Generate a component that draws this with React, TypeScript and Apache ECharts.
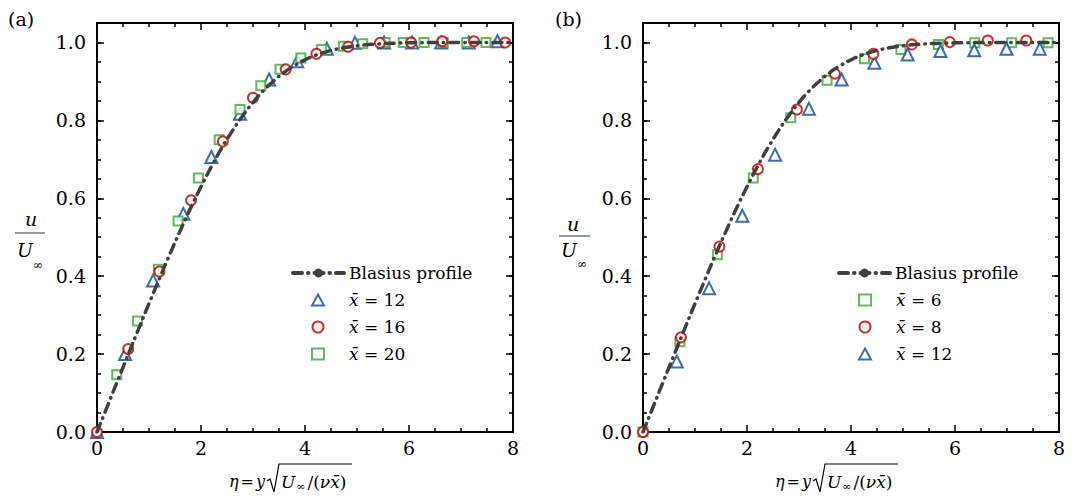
import React, { useEffect, useRef } from 'react';
import * as echarts from 'echarts';

// Blasius similarity profile u/U∞ versus η
const blasiusEta = [0, 0.2, 0.4, 0.6, 0.8, 1.0, 1.2, 1.4, 1.6, 1.8, 2.0, 2.2, 2.4, 2.6, 2.8, 3.0, 3.2, 3.4, 3.6, 3.8, 4.0, 4.2, 4.4, 4.6, 4.8, 5.0, 5.4, 5.8, 6.2, 6.6, 7.0, 7.5, 8.0];
const blasiusU = [0, 0.0664, 0.1328, 0.1989, 0.2647, 0.3298, 0.3938, 0.4563, 0.5168, 0.5748, 0.6298, 0.6813, 0.729, 0.7725, 0.8115, 0.8461, 0.8761, 0.9018, 0.9233, 0.9411, 0.9555, 0.967, 0.9759, 0.9827, 0.9878, 0.9916, 0.9962, 0.9984, 0.9994, 0.9998, 0.9999, 1.0, 1.0];

// Panel (a) measurements [η, u/U∞]
const a_x12: number[][] = [[0, 0], [0.54, 0.2], [1.08, 0.389], [1.66, 0.56], [2.2, 0.706], [2.75, 0.817], [3.31, 0.905], [3.85, 0.952], [4.42, 0.984], [4.96, 0.999], [5.52, 1.0], [6.06, 1.0], [6.62, 1.0], [7.15, 1.0], [7.7, 1.003]];
const a_x16: number[][] = [[0, 0], [0.6, 0.213], [1.2, 0.412], [1.81, 0.595], [2.42, 0.746], [3.0, 0.858], [3.63, 0.931], [4.22, 0.971], [4.83, 0.989], [5.44, 0.999], [6.04, 1.0], [6.64, 1.003], [7.25, 1.003], [7.85, 1.0]];
const a_x20: number[][] = [[0.38, 0.147], [0.78, 0.285], [1.18, 0.418], [1.56, 0.542], [1.95, 0.652], [2.35, 0.75], [2.75, 0.828], [3.15, 0.889], [3.52, 0.931], [3.92, 0.96], [4.32, 0.982], [4.74, 0.99], [5.11, 0.997], [5.54, 1.0], [5.89, 1.0], [6.29, 1.0], [6.66, 1.0], [7.11, 1.0], [7.48, 1.0]];

// Panel (b) measurements [η, u/U∞]
const b_x6: number[][] = [[0, 0], [0.71, 0.232], [1.43, 0.455], [2.12, 0.652], [2.84, 0.807], [3.54, 0.903], [4.26, 0.958], [4.96, 0.982], [5.68, 0.995], [6.38, 0.999], [7.09, 0.999], [7.79, 0.999]];
const b_x8: number[][] = [[0, 0], [0.73, 0.243], [1.47, 0.476], [2.21, 0.675], [2.96, 0.828], [3.69, 0.92], [4.43, 0.971], [5.17, 0.995], [5.9, 1.001], [6.63, 1.005], [7.37, 1.005]];
const b_x12: number[][] = [[0.65, 0.181], [1.27, 0.369], [1.91, 0.555], [2.54, 0.712], [3.19, 0.83], [3.82, 0.905], [4.45, 0.948], [5.09, 0.969], [5.72, 0.978], [6.37, 0.98], [6.99, 0.984], [7.63, 0.984]];

const BLASIUS = 'Blasius profile';
const N12 = 'x\u0304 = 12';
const N16 = 'x\u0304 = 16';
const N20 = 'x\u0304 = 20';
const N6 = 'x\u0304 = 6';
const N8 = 'x\u0304 = 8';

const BLUE = '#0a4a96';
const RED = '#c00000';
const GREEN = '#3aa838';
const CURVE = '#404040';
const GRID_LEFT = [97, 643];

const FONT = 'DejaVu Serif';
const TICK_SIZE = 19;
const LEG_SIZE = 17;

function xAxisDef(gridIndex: number, position: 'bottom' | 'top', labels: boolean) {
  return {
    type: 'value', gridIndex, position, min: 0, max: 8, interval: 2,
    axisLine: { show: true, onZero: false, lineStyle: { color: '#000', width: 2 } },
    axisTick: { show: true, inside: true, length: 7, lineStyle: { color: '#000', width: 1.5 } },
    minorTick: { show: true, splitNumber: 4, length: 4, lineStyle: { color: '#000', width: 1.5 } },
    splitLine: { show: false },
    minorSplitLine: { show: false },
    axisLabel: { show: labels, margin: 6, fontSize: TICK_SIZE, fontFamily: FONT, color: '#000' },
  };
}

function yAxisDef(gridIndex: number, position: 'left' | 'right', major: boolean, labels: boolean) {
  return {
    type: 'value', gridIndex, position, min: 0, max: 1.05, interval: major ? 0.2 : 0.05,
    axisLine: { show: true, onZero: false, lineStyle: { color: '#000', width: 2 } },
    axisTick: { show: true, inside: true, length: major ? 7 : 4, lineStyle: { color: '#000', width: 1.5 } },
    splitLine: { show: false },
    axisLabel: {
      show: labels, margin: 11, fontSize: TICK_SIZE, fontFamily: FONT, color: '#000',
      formatter: (v: number) => (Math.abs(v / 0.2 - Math.round(v / 0.2)) < 1e-6 ? v.toFixed(1) : ''),
    },
  };
}

function blasiusSeries(idx: number) {
  return {
    type: 'line', name: BLASIUS, xAxisIndex: idx * 2, yAxisIndex: idx * 4,
    data: blasiusEta.map((e, i) => [e, blasiusU[i]]),
    showSymbol: false, symbol: 'none', smooth: true,
    lineStyle: { color: CURVE, width: 3.5, type: [9, 6, 0.5, 6], cap: 'round' },
    itemStyle: { color: CURVE },
  };
}

function scatterSeries(idx: number, name: string, data: number[][], symbol: string, size: number, color: string) {
  return {
    type: 'scatter', name, xAxisIndex: idx * 2, yAxisIndex: idx * 4,
    data, symbol, symbolSize: size,
    itemStyle: { color: '#fff', borderColor: color, borderWidth: 2 },
  };
}

const legendRich = {
  i: { fontSize: LEG_SIZE, fontFamily: FONT, fontStyle: 'italic', color: '#000', lineHeight: 22, padding: [0, 0, 0, 20] },
  n: { fontSize: LEG_SIZE, fontFamily: FONT, color: '#000', lineHeight: 22 },
};

function lineLegend(left: number) {
  return {
    orient: 'vertical', left, top: 262, padding: 0, itemGap: 5,
    itemWidth: 51, itemHeight: 11,
    lineStyle: { width: 4 },
    selectedMode: false,
    data: [BLASIUS],
    textStyle: { fontSize: LEG_SIZE, fontFamily: FONT, color: '#000', lineHeight: 22 },
  };
}

function symbolLegend(left: number, data: string[]) {
  return {
    orient: 'vertical', left, top: 289, padding: 0, itemGap: 5,
    itemWidth: 12, itemHeight: 11,
    selectedMode: false,
    data,
    formatter: (name: string) => `{i|x\u0304}{n|${name.slice(2)}}`,
    textStyle: { fontSize: LEG_SIZE, fontFamily: FONT, color: '#000', lineHeight: 22, rich: legendRich },
  };
}

function yTitle(cx: number, uY: number, barY: number, barX0: number, barX1: number, UX: number, UY: number, infX: number, infY: number) {
  return [
    { type: 'text', x: cx, y: uY, style: { text: 'u', fontSize: 19, fontFamily: FONT, fontStyle: 'italic', fill: '#000', align: 'center', verticalAlign: 'middle' } },
    { type: 'line', shape: { x1: barX0, y1: barY, x2: barX1, y2: barY }, style: { stroke: '#777', lineWidth: 1.5 } },
    { type: 'text', x: UX, y: UY, style: { text: 'U', fontSize: 19, fontFamily: FONT, fontStyle: 'italic', fill: '#000', align: 'center', verticalAlign: 'middle' } },
    { type: 'text', x: infX, y: infY, style: { text: '\u221e', fontSize: 12, fontFamily: FONT, fill: '#000', align: 'center', verticalAlign: 'middle' } },
  ];
}

function xTitle(dx: number) {
  const y = 481;
  return [
    {
      type: 'text', x: 229 + dx, y,
      style: {
        text: '{i|\u03b7}{e|=}{i|y}', fontSize: 16, fontFamily: FONT, fill: '#000', align: 'left', verticalAlign: 'middle',
        rich: {
          i: { fontSize: 16, fontFamily: FONT, fontStyle: 'italic', fill: '#000' },
          e: { fontSize: 16, fontFamily: FONT, fill: '#000', padding: [0, 2, 0, 2] },
        },
      },
    },
    {
      type: 'polyline',
      shape: { points: [[267 + dx, 481], [270 + dx, 479], [274 + dx, 492], [279 + dx, 464], [352 + dx, 464]] },
      style: { stroke: '#000', lineWidth: 1.2, fill: null },
    },
    {
      type: 'text', x: 281 + dx, y: y + 1,
      style: {
        text: '{i|U}{s|\u221e}/({i|\u03bd}{i|x\u0304})', fontSize: 17, fontFamily: FONT, fill: '#000', align: 'left', verticalAlign: 'middle',
        rich: {
          i: { fontSize: 17, fontFamily: FONT, fontStyle: 'italic', fill: '#000' },
          s: { fontSize: 11, fontFamily: FONT, fill: '#000', padding: [8, 2, 0, 1] },
        },
      },
    },
  ];
}

function panelLabel(x: number, text: string) {
  return { type: 'text', x, y: 19, style: { text, fontSize: 19, fontFamily: FONT, fill: '#000', align: 'left', verticalAlign: 'middle' } };
}

export default function App() {
  const ref = useRef<HTMLDivElement>(null);
  useEffect(() => {
    if (!ref.current) return;
    const chart = echarts.init(ref.current, null, { renderer: 'svg' });
    const option: any = {
      animation: false,
      backgroundColor: '#fff',
      textStyle: { fontFamily: FONT },
      grid: GRID_LEFT.map((l) => ({ left: l, top: 23, width: 416, height: 409, containLabel: false })),
      xAxis: [
        xAxisDef(0, 'bottom', true), xAxisDef(0, 'top', false),
        xAxisDef(1, 'bottom', true), xAxisDef(1, 'top', false),
      ],
      yAxis: [
        yAxisDef(0, 'left', true, true), yAxisDef(0, 'left', false, false),
        yAxisDef(0, 'right', true, false), yAxisDef(0, 'right', false, false),
        yAxisDef(1, 'left', true, true), yAxisDef(1, 'left', false, false),
        yAxisDef(1, 'right', true, false), yAxisDef(1, 'right', false, false),
      ],
      legend: [
        lineLegend(291),
        symbolLegend(311, [N12, N16, N20]),
        lineLegend(837),
        symbolLegend(858, [N6, N8, N12]),
      ],
      series: [
        blasiusSeries(0),
        scatterSeries(0, N12, a_x12, 'triangle', 12, BLUE),
        scatterSeries(0, N20, a_x20, 'rect', 9, GREEN),
        scatterSeries(0, N16, a_x16, 'circle', 10, RED),
        blasiusSeries(1),
        scatterSeries(1, N6, b_x6, 'rect', 9, GREEN),
        scatterSeries(1, N12, b_x12, 'triangle', 12, BLUE),
        scatterSeries(1, N8, b_x8, 'circle', 10, RED),
      ],
      graphic: [
        panelLabel(8, '(a)'),
        panelLabel(555, '(b)'),
        ...yTitle(31, 219, 233, 15, 45, 25, 250, 38, 265),
        ...yTitle(573, 224, 236, 559, 590, 569, 250, 582, 264),
        ...xTitle(0),
        ...xTitle(546),
      ],
    };
    chart.setOption(option);
    return () => chart.dispose();
  }, []);
  return (
    <div
      ref={ref}
      style={{ position: 'absolute', left: 0, top: 0, width: 1072, height: 498, background: '#fff' }}
    />
  );
}
